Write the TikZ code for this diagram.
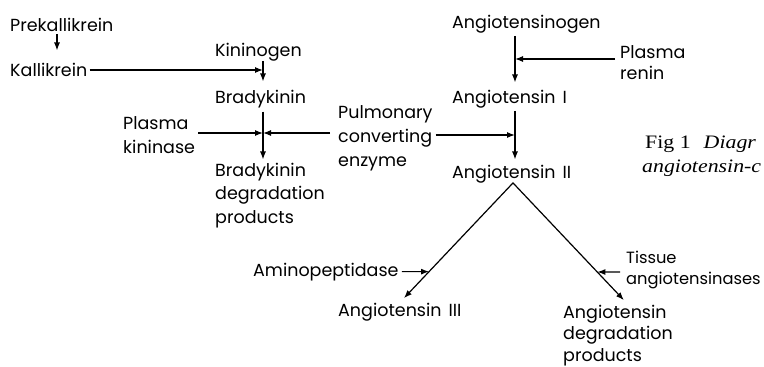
\documentclass[tikz,border=0pt]{standalone}
\usepackage{fontspec}
\setmainfont{Poppins}
\newfontfamily\capfont[FakeStretch=1.15]{Liberation Serif}
\usetikzlibrary{arrows.meta}
\begin{document}
\begin{tikzpicture}[x=1pt,y=-1pt,
  lbl/.style={inner sep=0pt, anchor=base west, align=left, font=\fontsize{17.5}{23.5}\selectfont},
  caplbl/.style={inner sep=0pt, anchor=base west, font=\capfont\fontsize{19}{24}\selectfont},
  arr/.style={-{Latex[length=8pt,width=6pt]}, line width=1.2pt},
  dbl/.style={{Latex[length=8pt,width=6pt]}-{Latex[length=8pt,width=6pt]}, line width=1.2pt}]
\useasboundingbox (0,0) rectangle (764,367);
% spines
\coordinate (px) at (57,0);
\coordinate (kx) at (263,0);
\coordinate (ax) at (515,0);
% left column (multi-line nodes: base = last line)
\node[lbl] (pre) at (10,31) {Prekallikrein};
\node[lbl] (kal) at (10,76) {Kallikrein};
\node[lbl] (kin) at (215,56) {Kininogen};
\node[lbl] (bra) at (215,103) {Bradykinin};
\node[lbl] (bdp) at (215,223) {Bradykinin\\degradation\\products};
\node[lbl, font=\fontsize{17.5}{24}\selectfont] (pk) at (123,153) {Plasma\\kininase};
\node[lbl, font=\fontsize{17.5}{24}\selectfont] (pce) at (338,166) {Pulmonary\\converting\\enzyme};
% right column
\node[lbl] (ag) at (452,28) {Angiotensinogen};
\node[lbl, font=\fontsize{17.5}{21}\selectfont] (pr) at (620,79) {Plasma\\renin};
\node[lbl] (a1) at (452,103) {Angiotensin\hspace{7pt}I};
\node[lbl] (a2) at (452,178) {Angiotensin\hspace{7pt}II};
\node[lbl] (a3) at (338,316) {Angiotensin\hspace{7pt}III};
\node[lbl, font=\fontsize{17.5}{21.5}\selectfont] (adp) at (563,361) {Angiotensin\\degradation\\products};
\node[lbl] (amp) at (253,276) {Aminopeptidase};
\node[lbl, font=\fontsize{16.3}{21}\selectfont] (ta) at (626,284) {Tissue\\angiotensinases};
% caption
\node[caplbl] (fig) at (645,148) {Fig 1\hspace{13pt}\textit{Diagr}};
\node[caplbl] (cap2) at (642,172) {\textit{angiotensin-c}};
% bradykinin arrows
\coordinate (b1) at (263,70);
\coordinate (b2) at (263,133);
\draw[arr, shorten <=3pt, shorten >=12pt] (pre.south -| px) -- (kal.north -| px);
\draw[arr, shorten <=2pt] (kal.east |- b1) -- (b1);
\draw[arr, shorten >=8pt] (kin.south -| kx) -- (bra.north -| kx);
\draw[arr, shorten <=4pt, shorten >=3pt] (bra.south -| kx) -- (bdp.north -| kx);
\draw[arr, shorten <=3pt] (pk.east |- b2) -- (b2);
\draw[arr, shorten <=8pt] (pce.west |- b2) -- (b2);
% angiotensin arrows
\coordinate (r1) at (515,59);
\coordinate (r2) at (515,135);
\draw[arr, shorten <=3pt, shorten >=7pt] (ag.south -| ax) -- (a1.north -| ax);
\draw[arr, shorten <=5pt] (pr.west |- r1) -- (r1);
\draw[arr, shorten <=3pt, shorten >=5pt] (a1.south -| ax) -- (a2.north -| ax);
\draw[arr, shorten <=3pt] (pce.east |- r2) -- (r2);
\coordinate (apx) at ([xshift=-2pt]a2.south -| ax);
\coordinate (rt) at ([xshift=10pt]adp.north);
\draw[dbl, shorten <=6pt, shorten >=6pt, line join=miter] (a3.north) -- (apx) -- (rt);
% enzyme arrows onto the branches
\coordinate (mA) at ([xshift=3pt]amp.east);
\coordinate (mB) at ([xshift=20pt]amp.east);
\draw[arr] (mA) -- (intersection of apx--a3.north and mA--mB);
\coordinate (tA) at (620,272);
\coordinate (tB) at (600,272);
\draw[arr] (tA) -- (intersection of apx--rt and tA--tB);
\end{tikzpicture}
\end{document}
